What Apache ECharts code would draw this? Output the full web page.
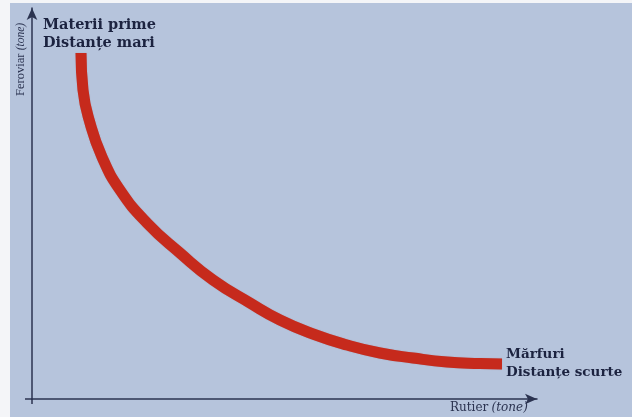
<!DOCTYPE html>
<html>
<head>
<meta charset="utf-8">
<script src="https://cdn.jsdelivr.net/npm/echarts@6/dist/echarts.min.js"></script>
<style>
html,body{margin:0;padding:0;background:#fff;}
#c{width:632px;height:417px;}
</style>
</head>
<body>
<div id="c"></div>
<script>
// Curve points (x = rutier, y = feroviar; arbitrary tonnes units)
var rutier   = [49, 51, 58, 70, 88, 115, 148, 181, 218, 248, 281, 315, 348, 381, 415, 448, 470];
var feroviar = [346, 309, 276, 242, 209, 176, 146, 119, 96, 79, 65, 54, 46, 41, 37, 35.5, 35];
var labelTop = ['Materii prime', 'Distanțe mari'];
var labelEnd = ['Mărfuri', 'Distanțe scurte'];
var xName = ['Rutier', '(tone)'];
var yName = ['Feroviar', '(tone)'];

var curve = rutier.map(function (x, i) { return [x, feroviar[i]]; });

var chart = echarts.init(document.getElementById('c'), null, {renderer: 'canvas'});
var axisColor = '#2b3350';
var textColor = '#1c2340';
var serif = '"Liberation Serif","DejaVu Serif",serif';
var wide = '"DejaVu Serif",serif';

chart.setOption({
  backgroundColor: '#b6c4dc',
  animation: false,
  grid: {left: 32, right: 95, top: 8, bottom: 18},
  xAxis: {
    type: 'value', min: 0, max: 505,
    axisLine: {show: true, lineStyle: {color: axisColor, width: 1.5},
      symbol: ['none', 'arrow'], symbolSize: [8, 12], symbolOffset: [0, 0]},
    axisTick: {show: false}, axisLabel: {show: false}, splitLine: {show: false}
  },
  yAxis: {
    type: 'value', min: 0, max: 391,
    axisLine: {show: true, lineStyle: {color: axisColor, width: 1.5},
      symbol: ['none', 'arrow'], symbolSize: [8, 12], symbolOffset: [0, 0]},
    axisTick: {show: false}, axisLabel: {show: false}, splitLine: {show: false}
  },
  series: [{
    type: 'line',
    data: curve,
    smooth: 0.5,
    showSymbol: false,
    lineStyle: {color: '#c62a1c', width: 11, cap: 'butt', join: 'round', shadowColor: 'rgba(120,20,10,0.25)', shadowBlur: 1}
  }],
  graphic: [
    {type: 'rect', shape: {x: 0, y: 0, width: 10, height: 417}, style: {fill: '#f4f5f8'}, z: 100},
    {type: 'rect', shape: {x: 0, y: 0, width: 632, height: 3}, style: {fill: '#f4f5f8'}, z: 100},
    {type: 'line', shape: {x1: 25, y1: 399, x2: 32, y2: 399}, style: {stroke: axisColor, lineWidth: 1.5}},
    {type: 'line', shape: {x1: 32, y1: 399, x2: 32, y2: 404}, style: {stroke: axisColor, lineWidth: 1.5}},
    {type: 'text', left: 43, top: 16,
      style: {text: labelTop.join('\n'), font: 'bold 14.5px ' + wide, fill: textColor, lineHeight: 18}},
    {type: 'text', left: 506, top: 345,
      style: {text: labelEnd.join('\n'), font: 'bold 13.5px ' + wide, fill: textColor, lineHeight: 18}},
    {type: 'text', left: 450, top: 402,
      style: {text: '{n|' + xName[0] + '} {i|' + xName[1] + '}',
        rich: {n: {font: '12px ' + wide, fill: axisColor}, i: {font: 'italic 12px ' + wide, fill: axisColor}}}},
    {type: 'text', x: 14, y: 96, rotation: Math.PI / 2,
      style: {text: '{n|' + yName[0] + '} {i|' + yName[1] + '}',
        rich: {n: {font: '12.5px ' + serif, fill: axisColor}, i: {font: 'italic 11.5px ' + serif, fill: axisColor}}}}
  ]
});
</script>
</body>
</html>
